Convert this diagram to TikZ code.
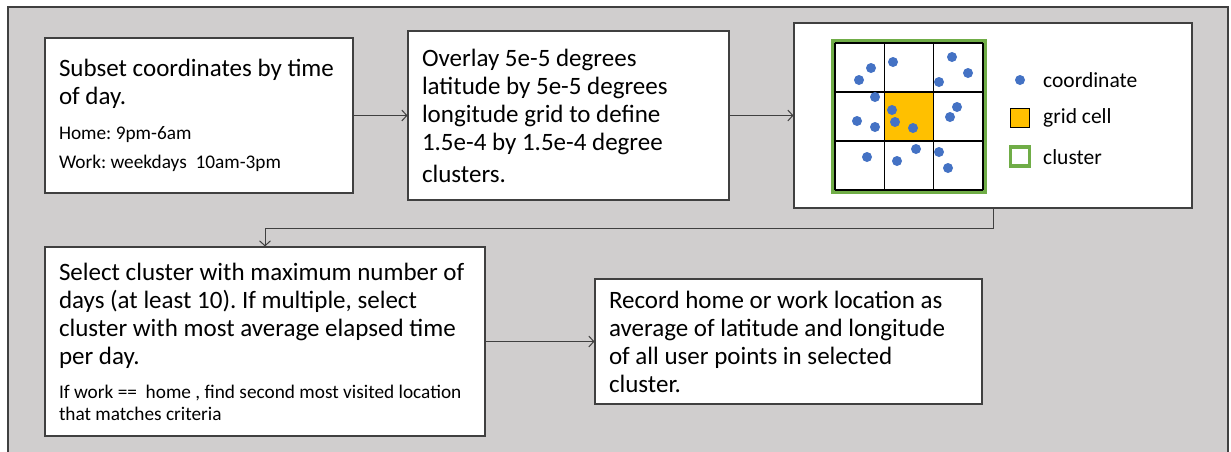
\documentclass[tikz,border=0pt]{standalone}
\usepackage{fontspec}
\setmainfont{Carlito}
\usetikzlibrary{arrows.meta}
\definecolor{panelgray}{RGB}{208,206,206}
\definecolor{edgegray}{RGB}{64,64,64}
\definecolor{dotblue}{RGB}{68,114,196}
\definecolor{cellorange}{RGB}{255,192,0}
\definecolor{clustergreen}{RGB}{112,173,71}

\newcommand{\bigtext}{\frenchspacing\fontsize{25}{28}\selectfont}
% use the font's own word spacing instead of the one set by align=left
\newcommand{\natspace}{\spaceskip=0pt\xspaceskip=0pt\relax}

\begin{document}
\begin{tikzpicture}[x=1pt,y=-1pt,
  stepbox/.style={draw=edgegray, line width=1.1pt, fill=white, align=left,
    inner xsep=14pt, inner ysep=0pt, font=\bigtext},
  flow/.style={draw=edgegray, line width=1pt, -{Straight Barb[length=5pt,width=11pt]}},
  dot/.style={circle, fill=dotblue, inner sep=0pt, minimum size=10pt},
  legendtext/.style={anchor=west, inner sep=0pt, font=\fontsize{21.5}{24}\selectfont},
  gridline/.style={black, line width=1.3pt}]

\useasboundingbox (0,0) rectangle (1231,451);
% grey panel behind the flow chart
\draw[edgegray, line width=1.3pt, fill=panelgray] (8,7) rectangle (1228,470);

% process boxes
\node[stepbox, text width=280pt, minimum height=155pt] (b1) at (199,115.5)
  {\natspace Subset coordinates by time\\ of day.\par\vspace{6pt}
   {\fontsize{19.3}{29}\selectfont Home: 9pm-6am\\ Work: weekdays\ \ 10am-3pm\par}};

\node[stepbox, text width=293pt, minimum height=169pt] (b2) at (568.5,115.5)
  {\natspace Overlay 5e-5 degrees\\ latitude by 5e-5 degrees\\ longitude grid to define\\
   1.5e-4 by 1.5e-4 degree\\[4pt] clusters.};

\node[draw=edgegray, line width=1.1pt, fill=white, minimum width=398pt,
  minimum height=185pt, inner sep=0pt] (b3) at (993,115.5) {};

\node[stepbox, text width=412pt, minimum height=189pt] (b4) at (265,341.5)
  {\natspace Select cluster with maximum number of\\ days (at least 10). If multiple, select\\
   cluster with most average elapsed time\\ per day.\par\vspace{12pt}
   {\fontsize{19.3}{22}\selectfont If work ==\ \ home , find second most visited location\\ that matches criteria\par}};

\node[stepbox, text width=359pt, minimum height=125pt] (b5) at (788.5,341.5)
  {\natspace Record home or work location as\\ average of latitude and longitude\\
   of all user points in selected\\ cluster.};

% connectors
\draw[flow] (b1.east) -- (b2.west);
\draw[flow] (b2.east) -- (b3.west);
\draw[flow] (b3.south) -- ++(0,20) -| (b4.north);
\draw[flow] (b4.east) -- (b5.west);

% grid illustration: cluster of 3x3 grid cells
\fill[cellorange] (884.3,92) rectangle (933.7,141);
\draw[clustergreen, line width=4pt] (833,41) rectangle (985,192);
\foreach \gx in {835,884.3,933.7,983}
  \draw[gridline] (\gx,43) -- (\gx,190);
\foreach \gy in {43,92,141,190}
  \draw[gridline] (835,\gy) -- (983,\gy);

% sample coordinates
\foreach \px/\py [count=\i] in {871/68, 859/80, 893/62, 952/57, 968/73, 939/82,
    875/97, 892/110, 957/107, 857/121, 875/127, 895/122, 913/128, 950/117,
    867/157, 897/161, 916/149, 939/152, 948/168}
  \node[dot] (p\i) at (\px,\py) {};

% legend
\node[dot] (lg1) at (1020,80) {};
\node[legendtext] (lt1) at (1043,80) {coordinate};
\node[draw=black, line width=1.2pt, fill=cellorange, minimum size=19pt, inner sep=0pt] (lg2) at (1020,118) {};
\node[legendtext] (lt2) at (1043,118) {grid cell};
\node[draw=clustergreen, line width=3.5pt, fill=white, minimum size=19pt, inner sep=0pt] (lg3) at (1020,156.5) {};
\node[legendtext] (lt3) at (1043,157) {cluster};
\end{tikzpicture}
\end{document}
